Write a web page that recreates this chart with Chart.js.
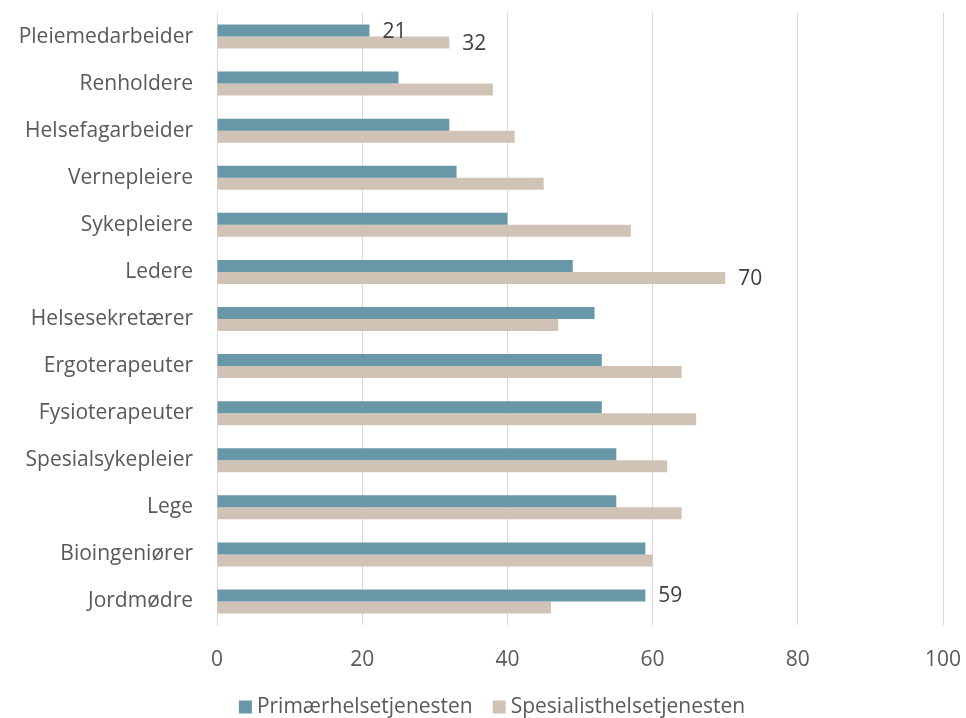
<!DOCTYPE html>
<html lang="no">
<head>
<meta charset="utf-8">
<script src="https://cdn.jsdelivr.net/npm/chart.js@4/dist/chart.umd.min.js"></script>
<style>
  html, body { margin: 0; padding: 0; background: #ffffff; }
  #wrap { width: 966px; height: 718px; position: relative; }
</style>
</head>
<body>
<div id="wrap"><canvas id="chart"></canvas></div>
<script>
// Yrkesgrupper, ovenfra og ned
const categories = [
  'Pleiemedarbeider', 'Renholdere', 'Helsefagarbeider', 'Vernepleiere',
  'Sykepleiere', 'Ledere', 'Helsesekretærer', 'Ergoterapeuter',
  'Fysioterapeuter', 'Spesialsykepleier', 'Lege', 'Bioingeniører', 'Jordmødre'
];

const primaer = [21, 25, 32, 33, 40, 49, 52, 53, 53, 55, 55, 59, 59];
const spesialist = [32, 38, 41, 45, 57, 70, 47, 64, 66, 62, 64, 60, 46];

const seriesNames = ['Primærhelsetjenesten', 'Spesialisthelsetjenesten'];

const xTicks = [0, 20, 40, 60, 80, 100];

// Verdietiketter som vises: [serie, kategori]
const valueLabels = [[0, 0], [1, 0], [1, 5], [0, 12]];

const TEXT = '#595959';
const FONT = '"Open Sans", "DejaVu Sans", sans-serif';
const SIZE = 21;

const valueLabelPlugin = {
  id: 'valueLabels',
  afterDatasetsDraw(chart) {
    const ctx = chart.ctx;
    ctx.save();
    ctx.font = SIZE + 'px ' + FONT;
    ctx.fillStyle = '#404040';
    ctx.textAlign = 'left';
    ctx.textBaseline = 'middle';
    valueLabels.forEach(([ds, i]) => {
      const bar = chart.getDatasetMeta(ds).data[i];
      const v = chart.data.datasets[ds].data[i];
      ctx.fillText(String(v), bar.x + 13, bar.y + 1);
    });
    ctx.restore();
  }
};

// Kompakt forklaring nederst: firkant, kort mellomrom, seriens navn
const compactLegendPlugin = {
  id: 'compactLegend',
  afterDraw(chart) {
    const ctx = chart.ctx;
    const box = 13, gap = 5, itemGap = 20;
    ctx.save();
    ctx.font = SIZE + 'px ' + FONT;
    ctx.textBaseline = 'middle';
    ctx.textAlign = 'left';
    const items = chart.data.datasets.map(d => ({
      text: d.label, color: d.backgroundColor, w: ctx.measureText(d.label).width
    }));
    const total = items.reduce((s, it) => s + box + gap + it.w, 0) + itemGap * (items.length - 1);
    let x = chart.width / 2 + 9 - total / 2;
    const y = chart.height - 11;
    items.forEach(it => {
      ctx.fillStyle = it.color;
      ctx.fillRect(x, y - box / 2, box, box);
      x += box + gap;
      ctx.fillStyle = TEXT;
      ctx.fillText(it.text, x, y);
      x += it.w + itemGap;
    });
    ctx.restore();
  }
};

new Chart(document.getElementById('chart'), {
  type: 'bar',
  data: {
    labels: categories,
    datasets: [
      { label: seriesNames[0], data: primaer, backgroundColor: '#6897a7' },
      { label: seriesNames[1], data: spesialist, backgroundColor: '#d0c3b6' }
    ]
  },
  options: {
    indexAxis: 'y',
    responsive: true,
    maintainAspectRatio: false,
    animation: false,
    categoryPercentage: 0.51,
    barPercentage: 1.0,
    layout: { padding: { top: 13, right: 23, left: 0, bottom: 23 } },
    plugins: {
      legend: { display: false },
      tooltip: { enabled: false }
    },
    scales: {
      x: {
        min: 0,
        max: 100,
        afterBuildTicks(axis) { axis.ticks = xTicks.map(v => ({ value: v })); },
        grid: { color: '#d9d9d9', drawTicks: false },
        border: { display: false },
        ticks: { color: TEXT, font: { family: FONT, size: SIZE }, padding: 22 },
        afterFit(axis) { axis.height = 70; axis.paddingLeft = 0; axis.paddingRight = 0; }
      },
      y: {
        grid: { display: false, drawTicks: false },
        border: { color: '#d9d9d9' },
        ticks: { color: TEXT, font: { family: FONT, size: SIZE }, padding: 24 },
        afterFit(axis) { axis.width = 217; axis.paddingTop = 0; axis.paddingBottom = 0; }
      }
    }
  },
  plugins: [valueLabelPlugin, compactLegendPlugin]
});
</script>
</body>
</html>
